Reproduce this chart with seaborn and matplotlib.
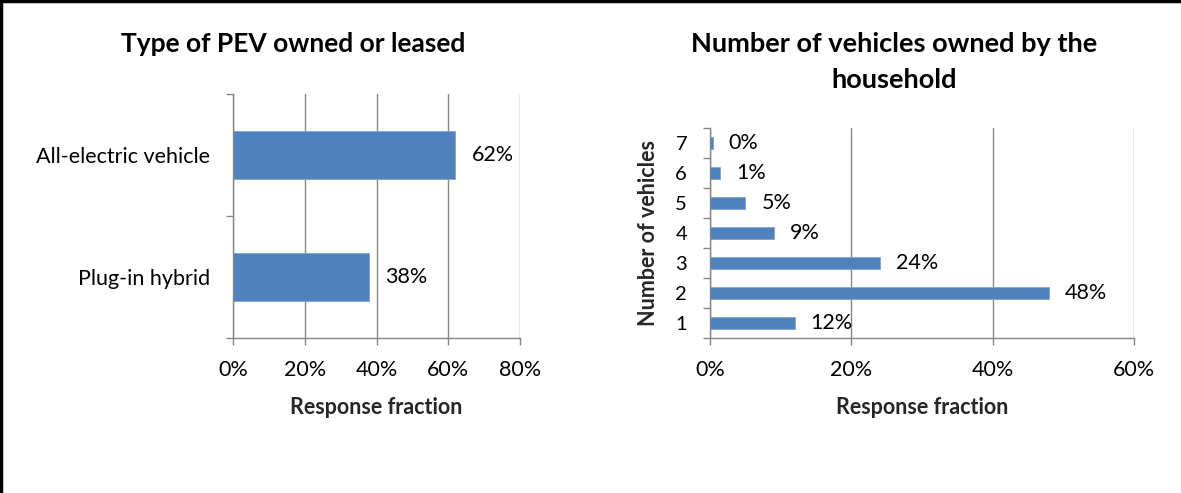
import matplotlib
matplotlib.use("Agg")
import matplotlib.pyplot as plt
import seaborn as sns
import pandas as pd
from matplotlib.ticker import PercentFormatter, FixedLocator
from matplotlib.lines import Line2D

# PEV type shares
pev_types = ["All-electric vehicle", "Plug-in hybrid"]
pev_share = [0.62, 0.38]

# Household vehicle count shares
vehicle_counts = ["1", "2", "3", "4", "5", "6", "7"]
vehicle_share = [0.12, 0.48, 0.24, 0.09, 0.05, 0.014, 0.004]

left_title = "Type of PEV owned or leased"
right_title = "Number of vehicles owned by the\nhousehold"
x_label = "Response fraction"
y_label_right = "Number of vehicles"

BAR = "#4F81BD"
GRID = "#868686"

sns.set_theme(style="white")
plt.rcParams["font.family"] = ["Lato", "DejaVu Sans"]
plt.rcParams["text.color"] = "black"
plt.rcParams["xtick.color"] = GRID
plt.rcParams["ytick.color"] = GRID
plt.rcParams["xtick.labelcolor"] = "black"
plt.rcParams["ytick.labelcolor"] = "black"

fig = plt.figure(figsize=(11.81, 4.93), dpi=100)
ax1 = fig.add_axes([0.1973, 0.3144, 0.2430, 0.4949])
ax2 = fig.add_axes([0.6012, 0.3144, 0.3590, 0.4260])

df_pev = pd.DataFrame({"type": pev_types, "share": pev_share})
df_veh = pd.DataFrame({"count": vehicle_counts, "share": vehicle_share})

sns.barplot(data=df_pev, y="type", x="share", orient="h", order=pev_types,
            color=BAR, saturation=1, width=0.4, ax=ax1,
            edgecolor="#7FA3D1", linewidth=0.6)
sns.barplot(data=df_veh, y="count", x="share", orient="h",
            order=vehicle_counts[::-1], color=BAR, saturation=1, width=0.38,
            ax=ax2, edgecolor="#7FA3D1", linewidth=0.6)

LABEL_FS = 15.5


def style_axis(ax, xmax, n_cat):
    ax.set_xlim(0, xmax)
    ax.set_ylim(n_cat - 0.5, -0.5)
    ax.xaxis.set_major_locator(FixedLocator([i * 0.2 for i in range(int(round(xmax / 0.2)) + 1)]))
    ax.xaxis.set_major_formatter(PercentFormatter(1.0, decimals=0))
    ax.grid(axis="x", color=GRID, linewidth=1.0)
    ax.set_axisbelow(True)
    for s in ["top", "right"]:
        ax.spines[s].set_visible(False)
    for s in ["left", "bottom"]:
        ax.spines[s].set_color(GRID)
        ax.spines[s].set_linewidth(1.0)
    ax.tick_params(axis="x", length=5, width=1.0, direction="out",
                   labelsize=LABEL_FS, pad=11, bottom=True)
    ax.tick_params(axis="y", which="major", length=0, labelsize=LABEL_FS,
                   pad=16.5)
    ax.yaxis.set_minor_locator(FixedLocator([i - 0.5 for i in range(n_cat + 1)]))
    ax.tick_params(axis="y", which="minor", length=5, width=1.0, left=True,
                   direction="out")
    ax.set_xlabel(x_label, fontsize=15.5, fontweight="bold", labelpad=12)
    for c in ax.containers:
        ax.bar_label(c, labels=[f"{v:.0%}" for v in c.datavalues],
                     padding=11.5, fontsize=LABEL_FS)


style_axis(ax1, 0.8, len(pev_types))
ax1.set_ylabel("")

style_axis(ax2, 0.6, len(vehicle_counts))
ax2.set_ylabel(y_label_right, fontsize=15.5, fontweight="bold")
ax2.yaxis.set_label_coords(-0.12, 0.5)
ax2.tick_params(axis="y", which="major", labelsize=14.5)

fig.text(0.248, 0.91, left_title, ha="center", va="center",
         fontsize=19, fontweight="bold")
fig.text(0.757, 0.874, right_title, ha="center", va="center",
         fontsize=19.5, fontweight="bold", linespacing=1.62)

# Outer frame lines along the top and left edges
fig.add_artist(Line2D([0, 1], [0.998, 0.998], transform=fig.transFigure,
                      color="black", linewidth=2.5))
fig.add_artist(Line2D([0.001, 0.001], [0, 1], transform=fig.transFigure,
                      color="black", linewidth=2.5))

fig.savefig("out.png", dpi=100, facecolor="white")
